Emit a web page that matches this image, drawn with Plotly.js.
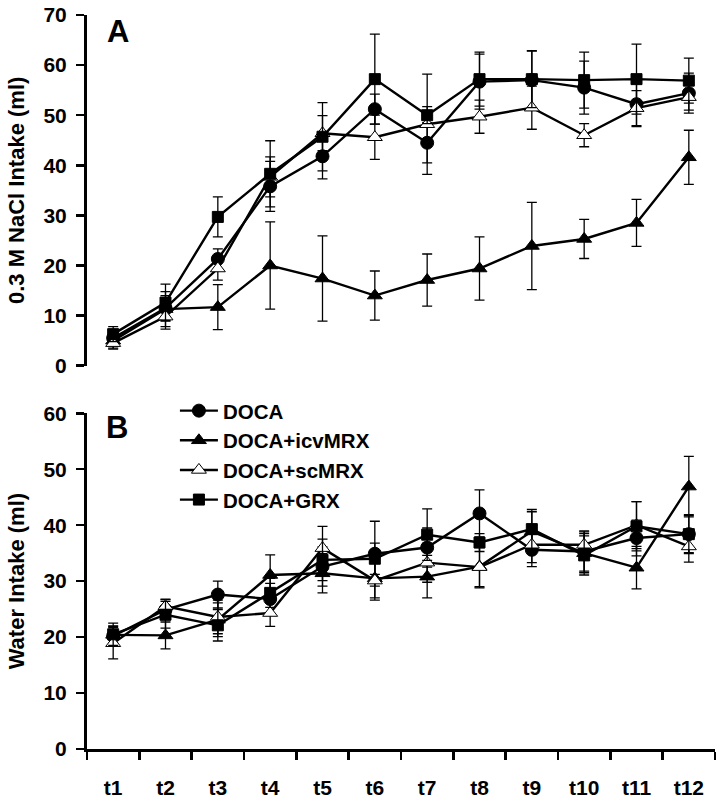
<!DOCTYPE html>
<html>
<head>
<meta charset="utf-8">
<script src="https://cdn.plot.ly/plotly-3.0.1.min.js"></script>
<style>html,body{margin:0;padding:0;background:#fff;}#chart{width:725px;height:804px;}</style>
</head>
<body>
<div id="chart"></div>
<script>
const categories = ["t1","t2","t3","t4","t5","t6","t7","t8","t9","t10","t11","t12"];
const seriesNames = ["DOCA","DOCA+icvMRX","DOCA+scMRX","DOCA+GRX"];

// Panel A: 0.3 M NaCl intake (ml)
const nacl_DOCA    = [5.5, 11.5, 21.3, 35.8, 41.8, 51.2, 44.5, 56.7, 57.0, 55.5, 52.2, 54.4];
const nacl_DOCA_se = [1.5, 2.5, 2.0, 5.0, 4.5, 3.0, 4.0, 5.5, 5.8, 5.3, 4.5, 4.0];
const nacl_icv     = [5.0, 11.3, 11.7, 20.0, 17.4, 14.0, 17.1, 19.4, 23.9, 25.3, 28.5, 41.6];
const nacl_icv_se  = [1.5, 3.5, 4.5, 8.7, 8.5, 4.9, 5.2, 6.3, 8.7, 3.9, 4.7, 5.4];
const nacl_sc      = [4.5, 9.8, 19.4, 37.7, 46.4, 45.6, 48.2, 49.7, 51.5, 46.0, 51.4, 53.6];
const nacl_sc_se   = [1.2, 2.5, 2.3, 4.0, 3.5, 4.4, 10.0, 3.3, 4.3, 2.3, 3.5, 2.6];
const nacl_GRX     = [6.3, 12.6, 29.7, 38.3, 45.7, 57.2, 50.0, 57.2, 57.2, 57.0, 57.2, 56.9];
const nacl_GRX_se  = [1.5, 3.7, 4.0, 6.6, 6.8, 9.0, 1.7, 5.4, 5.7, 5.6, 7.0, 4.5];

// Panel B: Water intake (ml)
const water_DOCA    = [20.2, 24.9, 27.6, 26.8, 32.6, 34.9, 36.0, 42.1, 35.6, 35.3, 37.7, 38.4];
const water_DOCA_se = [1.8, 1.8, 2.4, 2.8, 3.5, 5.8, 3.5, 4.2, 3.0, 3.5, 3.2, 3.3];
const water_icv     = [20.4, 20.3, 23.1, 31.1, 31.4, 30.5, 30.8, 32.6, 38.9, 35.0, 32.4, 46.9];
const water_icv_se  = [1.5, 2.4, 3.0, 3.6, 3.5, 3.5, 3.8, 3.8, 3.5, 3.5, 3.8, 5.4];
const water_sc      = [18.9, 25.5, 23.6, 24.3, 35.9, 30.1, 33.3, 32.5, 36.5, 36.5, 40.0, 36.2];
const water_sc_se   = [2.8, 1.3, 3.0, 2.4, 3.9, 3.5, 3.5, 3.5, 3.2, 2.5, 4.2, 2.8];
const water_GRX     = [20.5, 24.0, 22.1, 27.9, 33.8, 34.0, 38.3, 36.9, 39.3, 34.6, 39.8, 38.4];
const water_GRX_se  = [2.0, 2.4, 2.8, 2.6, 3.7, 2.8, 4.6, 1.6, 3.5, 3.5, 4.4, 3.5];

const yTitleA = "0.3 M NaCl Intake (ml)";
const yTitleB = "Water Intake (ml)";

const styles = [
  {symbol: "circle", size: 13, color: "#000"},
  {symbol: "triangle-up", size: 13, color: "#000"},
  {symbol: "triangle-up", size: 13, color: "#fff"},
  {symbol: "square", size: 11, color: "#000"}
];
const naclVals = [nacl_DOCA, nacl_icv, nacl_sc, nacl_GRX];
const naclErr = [nacl_DOCA_se, nacl_icv_se, nacl_sc_se, nacl_GRX_se];
const waterVals = [water_DOCA, water_icv, water_sc, water_GRX];
const waterErr = [water_DOCA_se, water_icv_se, water_sc_se, water_GRX_se];

function mk(i, vals, errs, xa, ya, show) {
  const s = styles[i];
  return {
    type: "scatter", mode: "lines+markers",
    x: categories, y: vals[i], xaxis: xa, yaxis: ya,
    name: seriesNames[i], legendgroup: seriesNames[i], showlegend: show,
    line: {color: "#000", width: 2.4},
    marker: {symbol: s.symbol, size: s.size, color: s.color, line: {color: "#000", width: 1}},
    error_y: {type: "data", array: errs[i], visible: true, color: "#000", thickness: 1.3, width: 5}
  };
}
const traces = [];
for (let i = 0; i < 4; i++) traces.push(mk(i, naclVals, naclErr, "x", "y", false));
for (let i = 0; i < 4; i++) traces.push(mk(i, waterVals, waterErr, "x2", "y2", true));

const F = "Liberation Sans, Arial, sans-serif";
const tickF = {family: F, size: 21, color: "#000", weight: "bold"};
const titleF = {family: F, size: 22, color: "#000", weight: "bold"};
const yCommon = {
  showgrid: false, zeroline: false, showline: true, linecolor: "#000", linewidth: 3,
  ticks: "outside", ticklen: 8, tickwidth: 2.5, tickcolor: "#000", ticklabelstandoff: 5,
  tickfont: tickF, dtick: 10, fixedrange: true
};
const layout = {
  width: 725, height: 804,
  margin: {l: 87, r: 10, t: 15, b: 55},
  paper_bgcolor: "#fff", plot_bgcolor: "#fff",
  font: {family: F, color: "#000", weight: "bold"},
  showlegend: true,
  legend: {x: 0.14, xanchor: "left", y: 0.488, yanchor: "top",
           bgcolor: "rgba(0,0,0,0)", font: {family: F, size: 20.5, color: "#000", weight: "bold"},
           itemwidth: 38, tracegroupgap: 0},
  xaxis: {type: "category", range: [-0.5, 11.5], anchor: "y", showline: false, showticklabels: false,
          ticks: "", showgrid: false, zeroline: false},
  xaxis2: {type: "category", range: [-0.5, 11.5], anchor: "y2", showline: true, linecolor: "#000", linewidth: 3,
           ticks: "outside", tickson: "boundaries", ticklen: 8, tickwidth: 2.5, tickcolor: "#000",
           ticklabelstandoff: 18, tickfont: tickF, showgrid: false, zeroline: false},
  yaxis: Object.assign({}, yCommon, {domain: [0.5222, 1], range: [0, 70], anchor: "x",
          title: {text: yTitleA, font: titleF, standoff: 13}}),
  yaxis2: Object.assign({}, yCommon, {domain: [0, 0.4574], range: [0, 60], anchor: "x2",
          title: {text: yTitleB, font: titleF, standoff: 13}}),
  annotations: [
    {text: "A", xref: "paper", yref: "paper", x: 0.0486, y: 0.977, xanchor: "center", yanchor: "middle",
     showarrow: false, font: {family: F, size: 31, color: "#000", weight: "bold"}},
    {text: "B", xref: "paper", yref: "paper", x: 0.0475, y: 0.438, xanchor: "center", yanchor: "middle",
     showarrow: false, font: {family: F, size: 31, color: "#000", weight: "bold"}}
  ]
};
Plotly.newPlot("chart", traces, layout, {displayModeBar: false, staticPlot: true});
</script>
</body>
</html>
